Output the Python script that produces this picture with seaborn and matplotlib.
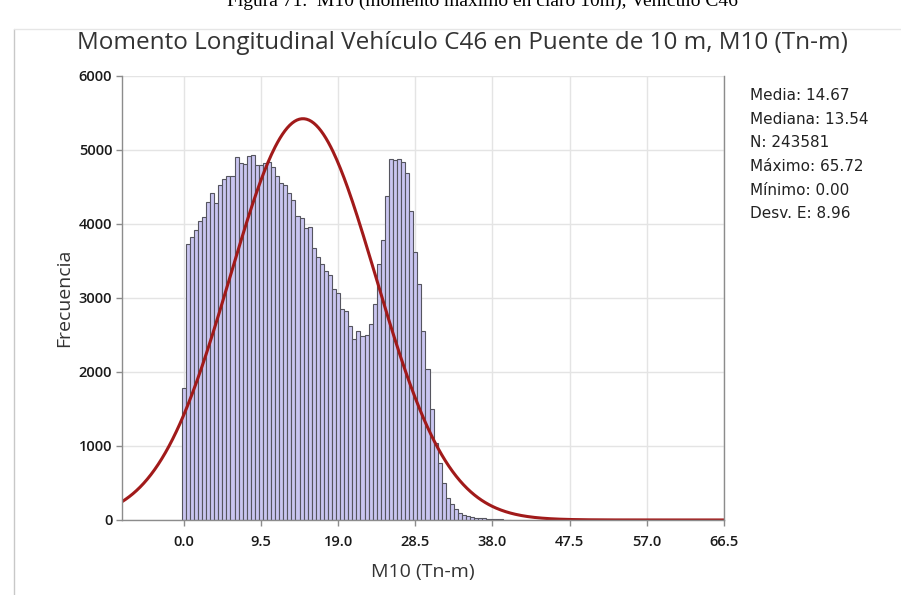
import numpy as np
import pandas as pd
import matplotlib
matplotlib.use("Agg")
import matplotlib.pyplot as plt
import seaborn as sns

# bin centres every 0.5 Tn-m starting at 0.0
bin_width = 0.5
counts = [
    1780, 3730, 3820, 3919, 4045, 4100, 4302, 4414, 4288, 4527,
    4604, 4649, 4649, 4900, 4830, 4810, 4920, 4930, 4800, 4800,
    4830, 4840, 4775, 4650, 4550, 4530, 4420, 4320, 4108, 4077,
    3941, 3964, 3671, 3559, 3459, 3369, 3311, 3117, 3063, 2847,
    2829, 2620, 2440, 2560, 2480, 2500, 2650, 2920, 3460, 3780,
    4380, 4880, 4870, 4880, 4840, 4685, 4180, 3626, 3189, 2559,
    2036, 1495, 1045, 775, 505, 300, 220, 150, 100, 68,
    50, 36, 32, 25, 20, 16, 12, 10, 8, 6, 5,
]
centers = np.arange(len(counts)) * bin_width

stat_media = 14.67
stat_mediana = 13.54
stat_n = 243581
stat_max = 65.72
stat_min = 0.00
stat_desv = 8.96

x_ticks = [0.0, 9.5, 19.0, 28.5, 38.0, 47.5, 57.0, 66.5]
y_ticks = [0, 1000, 2000, 3000, 4000, 5000, 6000]

df = pd.DataFrame({"M10": centers, "n": counts})

sns.set_theme(style="white")
plt.rcParams["font.family"] = ["Open Sans", "DejaVu Sans"]

fig = plt.figure(figsize=(9.01, 5.95), dpi=100)
ax = fig.add_axes([0.1354, 0.1261, 0.6682, 0.7462])

sns.histplot(data=df, x="M10", weights="n", binwidth=bin_width,
             binrange=(-bin_width / 2, centers[-1] + bin_width / 2), ax=ax,
             color="#c9c5f0", alpha=1.0, edgecolor="#55555f", linewidth=0.8)

# fitted normal curve
xs = np.linspace(-7.6, 66.5, 500)
ys = stat_n * bin_width / (stat_desv * np.sqrt(2 * np.pi)) * np.exp(-0.5 * ((xs - stat_media) / stat_desv) ** 2)
sns.lineplot(x=xs, y=ys, ax=ax, color="#a11a1a", linewidth=2.2)

ax.set_xlim(-7.6, 66.5)
ax.set_ylim(0, 6000)
ax.set_xticks(x_ticks)
ax.set_xticklabels([f"{t:.1f}" for t in x_ticks])
ax.set_yticks(y_ticks)
ax.grid(True, color="#e4e4e4", linewidth=1.0)
ax.set_axisbelow(True)
for s in ["left", "bottom", "right"]:
    ax.spines[s].set_color("#8c8c8c")
    ax.spines[s].set_linewidth(1.0)
ax.spines["top"].set_visible(False)
ax.tick_params(axis="both", which="both", direction="out", length=4, width=1,
               color="#8c8c8c", labelsize=10.5, labelcolor="#1a1a1a",
               bottom=True, left=True)
for lab in ax.get_xticklabels() + ax.get_yticklabels():
    lab.set_fontweight("semibold")
ax.tick_params(axis="x", pad=7)
ax.tick_params(axis="y", pad=3)
ax.set_xlabel("M10 (Tn-m)", fontsize=14, color="#333333", labelpad=10)
ax.set_ylabel("Frecuencia", fontsize=14, color="#333333", labelpad=4)

fig.text(0.513, 0.928, "Momento Longitudinal Vehículo C46 en Puente de 10 m, M10 (Tn-m)",
         ha="center", va="center", fontsize=17.5, color="#333333")

stats = [
    f"Media: {stat_media:.2f}",
    f"Mediana: {stat_mediana:.2f}",
    f"N: {stat_n}",
    f"Máximo: {stat_max:.2f}",
    f"Mínimo: {stat_min:.2f}",
    f"Desv. E: {stat_desv:.2f}",
]
fig.text(0.832, 0.852, "\n".join(stats), ha="left", va="top", fontsize=11,
         family="DejaVu Sans", color="#222222", linespacing=1.72)

# clipped document caption and frame from the source page
fig.text(0.535, 0.997, "Figura 71.  M10 (momento máximo en claro 10m), Vehículo C46",
         ha="center", va="center", fontsize=14, family="Liberation Serif", color="#000000")
fig.add_artist(plt.Line2D([0.016, 0.016], [0.0, 0.952], color="#c8c8c8", linewidth=1))
fig.add_artist(plt.Line2D([0.016, 1.0], [0.952, 0.952], color="#e6e6e6", linewidth=1))

fig.savefig("out.png", dpi=100)
